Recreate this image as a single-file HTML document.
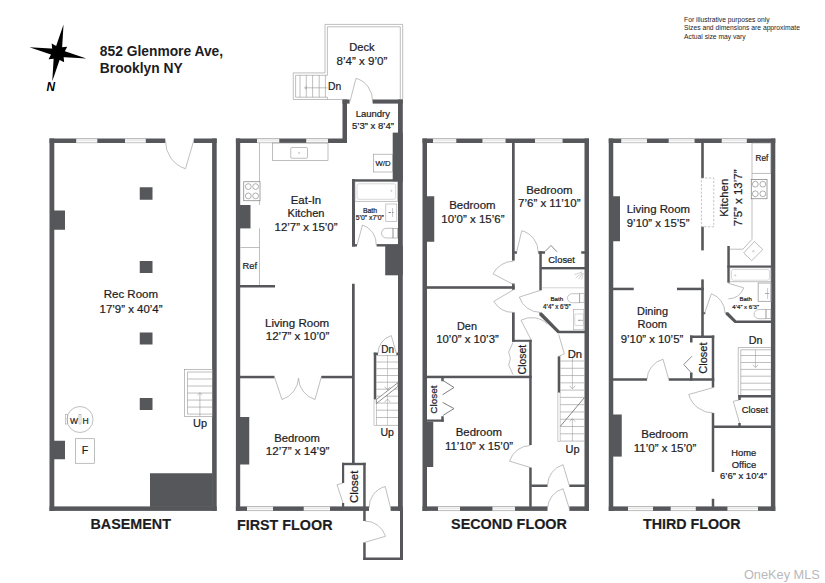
<!DOCTYPE html>
<html><head><meta charset="utf-8"><title>Floor plan</title>
<style>
html,body{margin:0;padding:0;background:#fff;}
body{width:825px;height:583px;overflow:hidden;}
svg{display:block;font-family:"Liberation Sans",sans-serif;}
</style></head><body>
<svg width="825" height="583" viewBox="0 0 825 583">
<rect width="825" height="583" fill="#ffffff"/>
<rect x="49.50" y="138.50" width="4.80" height="372.40" fill="#56575a"/>
<rect x="212.10" y="138.50" width="4.60" height="372.40" fill="#56575a"/>
<rect x="49.50" y="138.50" width="115.75" height="4.50" fill="#56575a"/>
<rect x="193.75" y="138.50" width="22.95" height="4.50" fill="#56575a"/>
<rect x="76.25" y="138.50" width="21.00" height="4.50" fill="#ffffff"/>
<line x1="76.25" y1="138.80" x2="97.25" y2="138.80" stroke="#9a9a9c" stroke-width="0.6" />
<line x1="76.25" y1="142.70" x2="97.25" y2="142.70" stroke="#9a9a9c" stroke-width="0.6" />
<line x1="76.25" y1="140.75" x2="97.25" y2="140.75" stroke="#c8c8ca" stroke-width="0.5" />
<rect x="125.00" y="138.50" width="20.75" height="4.50" fill="#ffffff"/>
<line x1="125.00" y1="138.80" x2="145.75" y2="138.80" stroke="#9a9a9c" stroke-width="0.6" />
<line x1="125.00" y1="142.70" x2="145.75" y2="142.70" stroke="#9a9a9c" stroke-width="0.6" />
<line x1="125.00" y1="140.75" x2="145.75" y2="140.75" stroke="#c8c8ca" stroke-width="0.5" />
<rect x="49.50" y="506.40" width="167.20" height="4.50" fill="#56575a"/>
<rect x="139.75" y="187.25" width="12.75" height="12.50" fill="#56575a"/>
<rect x="139.75" y="261.00" width="12.75" height="12.00" fill="#56575a"/>
<rect x="139.75" y="332.50" width="12.75" height="12.00" fill="#56575a"/>
<rect x="139.75" y="398.00" width="12.75" height="12.00" fill="#56575a"/>
<rect x="53.80" y="210.50" width="11.20" height="19.25" fill="#56575a"/>
<rect x="53.80" y="440.75" width="11.20" height="18.50" fill="#56575a"/>
<rect x="150.00" y="473.25" width="62.60" height="33.65" fill="#56575a"/>
<path d="M193.75,140.50 L185.50,168.75 A28.84,28.84 0 0 1 165.50,140.50" fill="none" stroke="#939395" stroke-width="0.6"/>
<rect x="184.60" y="369.30" width="27.70" height="47.00" rx="0" fill="none" stroke="#939395" stroke-width="0.6" />
<line x1="187.50" y1="372.00" x2="187.50" y2="414.10" stroke="#939395" stroke-width="0.6" />
<line x1="187.50" y1="372.00" x2="212.30" y2="372.00" stroke="#939395" stroke-width="0.6" />
<line x1="187.50" y1="414.10" x2="212.30" y2="414.10" stroke="#939395" stroke-width="0.6" />
<line x1="187.50" y1="379.02" x2="212.30" y2="379.02" stroke="#939395" stroke-width="0.6" />
<line x1="187.50" y1="386.03" x2="212.30" y2="386.03" stroke="#939395" stroke-width="0.6" />
<line x1="187.50" y1="393.05" x2="212.30" y2="393.05" stroke="#939395" stroke-width="0.6" />
<line x1="187.50" y1="400.07" x2="212.30" y2="400.07" stroke="#939395" stroke-width="0.6" />
<line x1="187.50" y1="407.08" x2="212.30" y2="407.08" stroke="#939395" stroke-width="0.6" />
<line x1="199.90" y1="393.20" x2="199.90" y2="416.30" stroke="#939395" stroke-width="0.6" />
<path d="M197.5,395 L199.9,392.7 L202.3,395" fill="none" stroke="#939395" stroke-width="0.6"/>
<text x="200.00" y="426.65" font-size="10.95" text-anchor="middle" font-weight="normal" font-style="normal" fill="#1d1d1f" stroke="#1d1d1f" stroke-width="0.22">Up</text>
<circle cx="80.00" cy="419.50" r="13.00" fill="none" stroke="#939395" stroke-width="0.6"/>
<rect x="65.50" y="414.50" width="2.00" height="9.50" rx="0" fill="none" stroke="#939395" stroke-width="0.5" />
<rect x="79.00" y="414.50" width="2.00" height="9.50" rx="0" fill="none" stroke="#939395" stroke-width="0.5" />
<text x="74.00" y="423.65" font-size="8.48" text-anchor="middle" font-weight="normal" font-style="normal" fill="#1d1d1f" stroke="#1d1d1f" stroke-width="0.22">W</text>
<text x="85.67" y="423.65" font-size="8.52" text-anchor="middle" font-weight="normal" font-style="normal" fill="#1d1d1f" stroke="#1d1d1f" stroke-width="0.22">H</text>
<rect x="75.50" y="438.75" width="19.00" height="24.50" rx="0" fill="none" stroke="#939395" stroke-width="0.6" />
<text x="85.05" y="454.40" font-size="10.64" text-anchor="middle" font-weight="normal" font-style="normal" fill="#1d1d1f" stroke="#1d1d1f" stroke-width="0.22">F</text>
<text x="130.88" y="298.40" font-size="11.49" text-anchor="middle" font-weight="normal" font-style="normal" fill="#1d1d1f" stroke="#1d1d1f" stroke-width="0.22">Rec Room</text>
<text x="131.00" y="312.65" font-size="11.45" text-anchor="middle" font-weight="normal" font-style="normal" fill="#1d1d1f" stroke="#1d1d1f" stroke-width="0.22">17’9” x 40’4”</text>
<text x="130.75" y="529.40" font-size="14.35" text-anchor="middle" font-weight="bold" font-style="normal" fill="#1d1d1f" stroke="#1d1d1f" stroke-width="0.15">BASEMENT</text>
<rect x="235.90" y="138.50" width="4.30" height="372.40" fill="#56575a"/>
<rect x="235.90" y="138.50" width="111.10" height="4.50" fill="#56575a"/>
<rect x="257.00" y="138.50" width="22.25" height="4.50" fill="#ffffff"/>
<line x1="257.00" y1="138.80" x2="279.25" y2="138.80" stroke="#9a9a9c" stroke-width="0.6" />
<line x1="257.00" y1="142.70" x2="279.25" y2="142.70" stroke="#9a9a9c" stroke-width="0.6" />
<line x1="257.00" y1="140.75" x2="279.25" y2="140.75" stroke="#c8c8ca" stroke-width="0.5" />
<rect x="306.25" y="138.50" width="21.75" height="4.50" fill="#ffffff"/>
<line x1="306.25" y1="138.80" x2="328.00" y2="138.80" stroke="#9a9a9c" stroke-width="0.6" />
<line x1="306.25" y1="142.70" x2="328.00" y2="142.70" stroke="#9a9a9c" stroke-width="0.6" />
<line x1="306.25" y1="140.75" x2="328.00" y2="140.75" stroke="#c8c8ca" stroke-width="0.5" />
<rect x="342.50" y="99.50" width="4.50" height="43.50" fill="#56575a"/>
<rect x="342.50" y="99.50" width="7.10" height="4.10" fill="#56575a"/>
<rect x="372.60" y="99.50" width="30.20" height="4.10" fill="#56575a"/>
<rect x="398.00" y="99.50" width="4.80" height="411.40" fill="#56575a"/>
<rect x="392.70" y="132.60" width="10.10" height="49.15" fill="#56575a"/>
<rect x="385.20" y="246.00" width="17.60" height="29.30" fill="#56575a"/>
<rect x="352.00" y="179.25" width="46.50" height="2.50" fill="#56575a"/>
<rect x="352.00" y="179.25" width="3.00" height="67.25" fill="#56575a"/>
<rect x="352.00" y="244.10" width="5.00" height="2.40" fill="#56575a"/>
<rect x="376.60" y="244.10" width="21.90" height="2.40" fill="#56575a"/>
<path d="M357.00,245.00 L362.50,225.00 A20.00,20.00 0 0 1 376.25,245.00" fill="none" stroke="#939395" stroke-width="0.6"/>
<rect x="352.00" y="283.75" width="2.70" height="179.25" fill="#56575a"/>
<rect x="239.70" y="285.00" width="35.30" height="2.50" fill="#56575a"/>
<rect x="239.70" y="375.80" width="34.80" height="2.50" fill="#56575a"/>
<rect x="321.25" y="375.80" width="31.25" height="2.50" fill="#56575a"/>
<rect x="239.70" y="417.00" width="9.55" height="47.50" fill="#56575a"/>
<rect x="239.70" y="205.00" width="10.80" height="23.40" fill="#56575a"/>
<rect x="342.00" y="462.80" width="23.70" height="2.40" fill="#56575a"/>
<rect x="342.00" y="462.80" width="2.20" height="20.20" fill="#56575a"/>
<rect x="342.00" y="503.00" width="2.20" height="3.90" fill="#56575a"/>
<rect x="363.20" y="462.80" width="2.50" height="58.20" fill="#56575a"/>
<rect x="363.20" y="542.50" width="2.50" height="17.50" fill="#56575a"/>
<rect x="235.90" y="506.40" width="133.10" height="4.50" fill="#56575a"/>
<rect x="390.60" y="506.40" width="12.20" height="4.50" fill="#56575a"/>
<rect x="247.00" y="506.40" width="26.00" height="4.50" fill="#ffffff"/>
<line x1="247.00" y1="506.70" x2="273.00" y2="506.70" stroke="#9a9a9c" stroke-width="0.6" />
<line x1="247.00" y1="510.60" x2="273.00" y2="510.60" stroke="#9a9a9c" stroke-width="0.6" />
<line x1="247.00" y1="508.65" x2="273.00" y2="508.65" stroke="#c8c8ca" stroke-width="0.5" />
<rect x="303.75" y="506.40" width="26.25" height="4.50" fill="#ffffff"/>
<line x1="303.75" y1="506.70" x2="330.00" y2="506.70" stroke="#9a9a9c" stroke-width="0.6" />
<line x1="303.75" y1="510.60" x2="330.00" y2="510.60" stroke="#9a9a9c" stroke-width="0.6" />
<line x1="303.75" y1="508.65" x2="330.00" y2="508.65" stroke="#c8c8ca" stroke-width="0.5" />
<rect x="400.00" y="510.40" width="3.00" height="49.60" fill="#56575a"/>
<rect x="363.20" y="557.50" width="39.80" height="2.50" fill="#56575a"/>
<path d="M274.50,377.20 L282.00,399.50 A23.77,23.77 0 0 0 298.50,378.20" fill="none" stroke="#939395" stroke-width="0.6"/>
<path d="M321.25,377.20 L315.00,399.50 A22.97,22.97 0 0 1 298.50,378.20" fill="none" stroke="#939395" stroke-width="0.6"/>
<path d="M390.60,508.00 L385.20,486.50 A21.88,21.88 0 0 0 369.00,508.00" fill="none" stroke="#939395" stroke-width="0.6"/>
<path d="M364.50,542.50 L385.50,536.25 A21.71,21.71 0 0 0 364.80,521.00" fill="none" stroke="#939395" stroke-width="0.6"/>
<path d="M343,503 L337,484.7 L343,483" fill="none" stroke="#939395" stroke-width="0.6"/>
<path d="M350.00,101.50 L356.00,78.30 A23.28,23.28 0 0 1 372.60,101.50" fill="none" stroke="#939395" stroke-width="0.6"/>
<path d="M342.5,99.5 L293.25,99.5 L293.25,72.9 L325,72.9 L325,24.4 L402.7,24.4 L402.7,99.5" fill="none" stroke="#939395" stroke-width="0.6"/>
<path d="M327.4,97.2 L295.6,97.2 L295.6,75.3 L327.4,75.3 L327.4,26.8 L400.3,26.8 L400.3,99.5" fill="none" stroke="#939395" stroke-width="0.6"/>
<line x1="300.00" y1="75.30" x2="300.00" y2="97.20" stroke="#939395" stroke-width="0.6" />
<line x1="306.30" y1="75.30" x2="306.30" y2="97.20" stroke="#939395" stroke-width="0.6" />
<line x1="312.60" y1="75.30" x2="312.60" y2="97.20" stroke="#939395" stroke-width="0.6" />
<line x1="319.20" y1="75.30" x2="319.20" y2="97.20" stroke="#939395" stroke-width="0.6" />
<line x1="325.40" y1="75.30" x2="325.40" y2="97.20" stroke="#939395" stroke-width="0.6" />
<line x1="304.80" y1="87.80" x2="327.40" y2="87.80" stroke="#939395" stroke-width="0.6" />
<path d="M307,86 L304.6,87.8 L307,89.6" fill="none" stroke="#939395" stroke-width="0.6"/>
<line x1="327.40" y1="97.20" x2="327.40" y2="99.50" stroke="#939395" stroke-width="0.6" />
<text x="334.60" y="89.70" font-size="10.33" text-anchor="middle" font-weight="normal" font-style="normal" fill="#1d1d1f" stroke="#1d1d1f" stroke-width="0.22">Dn</text>
<text x="361.95" y="50.70" font-size="11.10" text-anchor="middle" font-weight="normal" font-style="normal" fill="#1d1d1f" stroke="#1d1d1f" stroke-width="0.22">Deck</text>
<text x="362.00" y="64.80" font-size="11.57" text-anchor="middle" font-weight="normal" font-style="normal" fill="#1d1d1f" stroke="#1d1d1f" stroke-width="0.22">8’4” x 9’0”</text>
<text x="372.85" y="117.40" font-size="9.49" text-anchor="middle" font-weight="normal" font-style="normal" fill="#1d1d1f" stroke="#1d1d1f" stroke-width="0.22">Laundry</text>
<text x="373.00" y="129.10" font-size="9.57" text-anchor="middle" font-weight="normal" font-style="normal" fill="#1d1d1f" stroke="#1d1d1f" stroke-width="0.22">5’3” x 8’4”</text>
<rect x="373.40" y="154.20" width="19.30" height="17.80" rx="0" fill="none" stroke="#939395" stroke-width="0.6" />
<text x="383.00" y="165.90" font-size="7.72" text-anchor="middle" font-weight="normal" font-style="normal" fill="#1d1d1f" stroke="#1d1d1f" stroke-width="0.22">W/D</text>
<rect x="272.50" y="143.00" width="55.50" height="17.50" rx="0" fill="none" stroke="#939395" stroke-width="0.6" />
<rect x="290.75" y="147.50" width="16.75" height="10.75" rx="1" fill="none" stroke="#939395" stroke-width="0.6" />
<circle cx="299.10" cy="152.90" r="0.70" fill="none" stroke="#939395" stroke-width="0.4"/>
<path d="M259.5,143 L259.5,205" fill="none" stroke="#939395" stroke-width="0.6"/>
<rect x="243.75" y="181.75" width="16.25" height="19.00" rx="0" fill="#fff" stroke="#7a7a7c" stroke-width="0.7" />
<circle cx="248.30" cy="186.60" r="2.90" fill="none" stroke="#7a7a7c" stroke-width="0.6"/>
<circle cx="255.60" cy="186.60" r="2.90" fill="none" stroke="#7a7a7c" stroke-width="0.6"/>
<circle cx="248.30" cy="195.90" r="2.90" fill="none" stroke="#7a7a7c" stroke-width="0.6"/>
<circle cx="255.60" cy="195.90" r="2.90" fill="none" stroke="#7a7a7c" stroke-width="0.6"/>
<path d="M259.5,228.4 L259.5,285" fill="none" stroke="#939395" stroke-width="0.6"/>
<line x1="240.40" y1="247.50" x2="259.50" y2="247.50" stroke="#939395" stroke-width="0.6" />
<text x="249.75" y="269.15" font-size="9.32" text-anchor="middle" font-weight="normal" font-style="normal" fill="#1d1d1f" stroke="#1d1d1f" stroke-width="0.22">Ref</text>
<text x="306.00" y="203.65" font-size="11.43" text-anchor="middle" font-weight="normal" font-style="normal" fill="#1d1d1f" stroke="#1d1d1f" stroke-width="0.22">Eat-In</text>
<text x="306.00" y="217.40" font-size="11.09" text-anchor="middle" font-weight="normal" font-style="normal" fill="#1d1d1f" stroke="#1d1d1f" stroke-width="0.22">Kitchen</text>
<text x="306.00" y="231.15" font-size="11.45" text-anchor="middle" font-weight="normal" font-style="normal" fill="#1d1d1f" stroke="#1d1d1f" stroke-width="0.22">12’7” x 15’0”</text>
<rect x="355.00" y="181.75" width="42.70" height="19.50" rx="0" fill="none" stroke="#9a9a9c" stroke-width="0.6" />
<rect x="357.00" y="183.80" width="38.70" height="15.50" rx="2" fill="none" stroke="#b0b0b2" stroke-width="0.5" />
<circle cx="391.50" cy="190.80" r="0.60" fill="none" stroke="#939395" stroke-width="0.4"/>
<rect x="385.80" y="204.00" width="11.00" height="17.60" rx="0" fill="none" stroke="#a5a5a7" stroke-width="0.6" />
<line x1="388.50" y1="212.50" x2="391.00" y2="212.50" stroke="#555" stroke-width="0.7" />
<line x1="392.20" y1="212.50" x2="393.60" y2="212.50" stroke="#555" stroke-width="0.7" />
<line x1="392.50" y1="208.00" x2="392.50" y2="217.00" stroke="#939395" stroke-width="0.5" />
<path d="M393,228.3 L386.5,228.3 A5,4.85 0 0 0 386.5,238 L393,238 Z" fill="none" stroke="#939395" stroke-width="0.6"/>
<rect x="393.00" y="228.30" width="4.70" height="9.70" rx="0" fill="none" stroke="#939395" stroke-width="0.6" />
<text x="370.00" y="212.90" font-size="6.81" text-anchor="middle" font-weight="normal" font-style="normal" fill="#1d1d1f" stroke="#1d1d1f" stroke-width="0.22">Bath</text>
<text x="369.75" y="220.40" font-size="6.81" text-anchor="middle" font-weight="normal" font-style="normal" fill="#1d1d1f" stroke="#1d1d1f" stroke-width="0.22">5’0” x7’0”</text>
<text x="297.12" y="326.65" font-size="11.56" text-anchor="middle" font-weight="normal" font-style="normal" fill="#1d1d1f" stroke="#1d1d1f" stroke-width="0.22">Living Room</text>
<text x="297.50" y="340.40" font-size="11.54" text-anchor="middle" font-weight="normal" font-style="normal" fill="#1d1d1f" stroke="#1d1d1f" stroke-width="0.22">12’7” x 10’0”</text>
<text x="297.12" y="441.65" font-size="11.28" text-anchor="middle" font-weight="normal" font-style="normal" fill="#1d1d1f" stroke="#1d1d1f" stroke-width="0.22">Bedroom</text>
<text x="297.62" y="455.40" font-size="11.59" text-anchor="middle" font-weight="normal" font-style="normal" fill="#1d1d1f" stroke="#1d1d1f" stroke-width="0.22">12’7” x 14’9”</text>
<text transform="translate(358.20,486.85) rotate(-90)" font-size="11.40" text-anchor="middle" fill="#1d1d1f" stroke="#1d1d1f" stroke-width="0.22">Closet</text>
<text x="284.75" y="529.65" font-size="14.33" text-anchor="middle" font-weight="bold" font-style="normal" fill="#1d1d1f" stroke="#1d1d1f" stroke-width="0.15">FIRST FLOOR</text>
<rect x="373.75" y="352.60" width="2.55" height="46.60" fill="#56575a"/>
<rect x="373.75" y="352.60" width="4.25" height="2.40" fill="#56575a"/>
<rect x="396.40" y="352.60" width="2.10" height="2.40" fill="#56575a"/>
<rect x="374.00" y="399.20" width="2.30" height="26.20" rx="0" fill="none" stroke="#939395" stroke-width="0.5" />
<path d="M396.40,353.60 L391.30,335.60 A18.55,18.55 0 0 0 378.00,353.60" fill="none" stroke="#939395" stroke-width="0.6"/>
<line x1="376.30" y1="355.60" x2="398.00" y2="355.60" stroke="#939395" stroke-width="0.6" />
<line x1="376.30" y1="362.00" x2="398.00" y2="362.00" stroke="#939395" stroke-width="0.6" />
<line x1="376.30" y1="368.70" x2="398.00" y2="368.70" stroke="#939395" stroke-width="0.6" />
<line x1="376.30" y1="375.50" x2="398.00" y2="375.50" stroke="#939395" stroke-width="0.6" />
<line x1="376.30" y1="382.20" x2="398.00" y2="382.20" stroke="#939395" stroke-width="0.6" />
<line x1="376.30" y1="389.20" x2="398.00" y2="389.20" stroke="#939395" stroke-width="0.6" />
<line x1="376.30" y1="396.20" x2="398.00" y2="396.20" stroke="#939395" stroke-width="0.6" />
<line x1="376.30" y1="403.10" x2="398.00" y2="403.10" stroke="#939395" stroke-width="0.6" />
<line x1="376.30" y1="410.20" x2="398.00" y2="410.20" stroke="#939395" stroke-width="0.6" />
<line x1="376.30" y1="417.50" x2="398.00" y2="417.50" stroke="#939395" stroke-width="0.6" />
<line x1="376.30" y1="425.40" x2="398.00" y2="425.40" stroke="#939395" stroke-width="0.6" />
<line x1="387.50" y1="355.00" x2="387.50" y2="425.40" stroke="#a0a0a2" stroke-width="0.5" />
<polygon points="376.3,399.6 398,382.6 398,386.4 376.3,403.6" fill="#fff" stroke="#737375" stroke-width="0.8"/>
<path d="M384.7,386.8 L387.5,389.8 L390.3,386.8" fill="none" stroke="#939395" stroke-width="0.6"/>
<path d="M384.7,402 L387.5,399.1 L390.3,402" fill="none" stroke="#939395" stroke-width="0.6"/>
<text x="387.60" y="352.70" font-size="10.01" text-anchor="middle" font-weight="normal" font-style="normal" fill="#1d1d1f" stroke="#1d1d1f" stroke-width="0.22">Dn</text>
<text x="387.25" y="436.20" font-size="10.56" text-anchor="middle" font-weight="normal" font-style="normal" fill="#1d1d1f" stroke="#1d1d1f" stroke-width="0.22">Up</text>
<rect x="422.50" y="138.50" width="4.50" height="372.40" fill="#56575a"/>
<rect x="584.50" y="138.50" width="4.50" height="372.40" fill="#56575a"/>
<rect x="422.50" y="138.50" width="166.50" height="4.50" fill="#56575a"/>
<rect x="433.00" y="138.50" width="23.25" height="4.50" fill="#ffffff"/>
<line x1="433.00" y1="138.80" x2="456.25" y2="138.80" stroke="#9a9a9c" stroke-width="0.6" />
<line x1="433.00" y1="142.70" x2="456.25" y2="142.70" stroke="#9a9a9c" stroke-width="0.6" />
<line x1="433.00" y1="140.75" x2="456.25" y2="140.75" stroke="#c8c8ca" stroke-width="0.5" />
<rect x="482.50" y="138.50" width="23.00" height="4.50" fill="#ffffff"/>
<line x1="482.50" y1="138.80" x2="505.50" y2="138.80" stroke="#9a9a9c" stroke-width="0.6" />
<line x1="482.50" y1="142.70" x2="505.50" y2="142.70" stroke="#9a9a9c" stroke-width="0.6" />
<line x1="482.50" y1="140.75" x2="505.50" y2="140.75" stroke="#c8c8ca" stroke-width="0.5" />
<rect x="535.00" y="138.50" width="27.50" height="4.50" fill="#ffffff"/>
<line x1="535.00" y1="138.80" x2="562.50" y2="138.80" stroke="#9a9a9c" stroke-width="0.6" />
<line x1="535.00" y1="142.70" x2="562.50" y2="142.70" stroke="#9a9a9c" stroke-width="0.6" />
<line x1="535.00" y1="140.75" x2="562.50" y2="140.75" stroke="#c8c8ca" stroke-width="0.5" />
<rect x="422.50" y="506.40" width="125.00" height="4.50" fill="#56575a"/>
<rect x="569.30" y="506.40" width="19.70" height="4.50" fill="#56575a"/>
<rect x="438.00" y="506.40" width="22.00" height="4.50" fill="#ffffff"/>
<line x1="438.00" y1="506.70" x2="460.00" y2="506.70" stroke="#9a9a9c" stroke-width="0.6" />
<line x1="438.00" y1="510.60" x2="460.00" y2="510.60" stroke="#9a9a9c" stroke-width="0.6" />
<line x1="438.00" y1="508.65" x2="460.00" y2="508.65" stroke="#c8c8ca" stroke-width="0.5" />
<rect x="492.50" y="506.40" width="22.50" height="4.50" fill="#ffffff"/>
<line x1="492.50" y1="506.70" x2="515.00" y2="506.70" stroke="#9a9a9c" stroke-width="0.6" />
<line x1="492.50" y1="510.60" x2="515.00" y2="510.60" stroke="#9a9a9c" stroke-width="0.6" />
<line x1="492.50" y1="508.65" x2="515.00" y2="508.65" stroke="#c8c8ca" stroke-width="0.5" />
<rect x="426.50" y="196.25" width="7.75" height="45.50" fill="#56575a"/>
<rect x="512.00" y="142.50" width="2.70" height="118.10" fill="#56575a"/>
<rect x="512.00" y="283.50" width="2.70" height="6.30" fill="#56575a"/>
<rect x="512.00" y="312.40" width="2.70" height="29.40" fill="#56575a"/>
<rect x="426.50" y="286.20" width="88.20" height="2.60" fill="#56575a"/>
<rect x="514.20" y="251.25" width="2.80" height="2.50" fill="#56575a"/>
<rect x="538.25" y="251.25" width="6.75" height="2.50" fill="#56575a"/>
<rect x="581.25" y="251.25" width="3.75" height="2.50" fill="#56575a"/>
<rect x="539.30" y="251.25" width="2.50" height="39.05" fill="#56575a"/>
<rect x="541.00" y="267.00" width="44.00" height="2.40" fill="#56575a"/>
<polygon points="539.30,312.40 541.80,312.40 559.60,330.80 585.00,330.80 585.00,333.30 557.60,333.30 539.30,315.20" fill="#56575a"/>
<rect x="512.00" y="339.80" width="19.70" height="2.00" fill="#56575a"/>
<rect x="529.20" y="339.80" width="2.50" height="105.20" fill="#56575a"/>
<rect x="529.20" y="467.50" width="2.50" height="39.40" fill="#56575a"/>
<rect x="426.50" y="375.70" width="105.20" height="2.50" fill="#56575a"/>
<rect x="426.50" y="419.50" width="17.25" height="2.25" fill="#56575a"/>
<rect x="441.25" y="378.00" width="2.50" height="3.25" fill="#56575a"/>
<rect x="441.25" y="416.25" width="2.50" height="5.50" fill="#56575a"/>
<rect x="426.50" y="421.75" width="6.75" height="45.25" fill="#56575a"/>
<rect x="531.20" y="484.50" width="16.30" height="2.50" fill="#56575a"/>
<rect x="569.30" y="484.50" width="15.70" height="2.50" fill="#56575a"/>
<rect x="557.70" y="356.30" width="2.60" height="36.20" fill="#56575a"/>
<rect x="557.90" y="392.50" width="2.20" height="48.75" rx="0" fill="none" stroke="#939395" stroke-width="0.5" />
<path d="M516.50,252.50 L521.75,230.75 A22.06,22.06 0 0 1 538.25,252.50" fill="none" stroke="#939395" stroke-width="0.6"/>
<path d="M545,251.5 L551,245.5 L557,251.8" fill="none" stroke="#7e7e80" stroke-width="0.9"/>
<path d="M513.30,284.50 L493.00,273.80 A23.12,23.12 0 0 1 513.30,261.20" fill="none" stroke="#939395" stroke-width="0.6"/>
<path d="M513.30,289.80 L493.80,301.40 A22.64,22.64 0 0 0 513.30,312.40" fill="none" stroke="#939395" stroke-width="0.6"/>
<path d="M540.50,290.30 L519.30,297.10 A22.18,22.18 0 0 0 540.50,312.40" fill="none" stroke="#939395" stroke-width="0.6"/>
<path d="M531.20,340.10 L521.00,320.20 A22.57,22.57 0 0 1 547.30,324.00" fill="none" stroke="#939395" stroke-width="0.6"/>
<path d="M558.70,334.50 L564.30,353.70 A20.90,20.90 0 0 1 558.70,356.30" fill="none" stroke="#939395" stroke-width="0.6"/>
<path d="M513,342.5 L508.7,352 L510.4,358.6 L508.7,365 L513,374.5" fill="none" stroke="#939395" stroke-width="0.6"/>
<path d="M442.3,380 L454,387.5 L442.6,394.7" fill="none" stroke="#7e7e80" stroke-width="1.0"/>
<path d="M442.6,402.4 L454,408.6 L443.1,415.3" fill="none" stroke="#7e7e80" stroke-width="1.0"/>
<path d="M530.40,467.50 L509.60,461.20 A21.87,21.87 0 0 1 530.40,445.50" fill="none" stroke="#939395" stroke-width="0.6"/>
<path d="M569.30,485.70 L563.10,464.70 A21.85,21.85 0 0 0 547.50,485.70" fill="none" stroke="#939395" stroke-width="0.6"/>
<path d="M569.30,508.50 L563.10,488.70 A21.27,21.27 0 0 0 547.50,508.50" fill="none" stroke="#939395" stroke-width="0.6"/>
<line x1="541.80" y1="287.80" x2="584.50" y2="287.80" stroke="#b5b5b7" stroke-width="0.6" />
<line x1="582.20" y1="271.80" x2="574.40" y2="274.80" stroke="#a5a5a7" stroke-width="0.5" />
<line x1="582.00" y1="272.80" x2="575.70" y2="278.00" stroke="#a5a5a7" stroke-width="0.5" />
<line x1="582.60" y1="273.20" x2="578.60" y2="279.20" stroke="#a5a5a7" stroke-width="0.5" />
<line x1="583.30" y1="273.20" x2="581.60" y2="279.40" stroke="#a5a5a7" stroke-width="0.5" />
<path d="M579.6,293.7 L572.5,293.7 A5,4.5 0 0 0 572.5,302.7 L579.6,302.7 Z" fill="none" stroke="#9a9a9c" stroke-width="0.6"/>
<rect x="579.60" y="293.70" width="4.60" height="9.00" rx="0" fill="none" stroke="#9a9a9c" stroke-width="0.6" />
<rect x="573.30" y="309.40" width="10.60" height="20.40" rx="0" fill="none" stroke="#a5a5a7" stroke-width="0.6" />
<rect x="574.90" y="314.00" width="8.30" height="11.70" rx="0" fill="none" stroke="#b5b5b7" stroke-width="0.5" />
<line x1="578.20" y1="320.30" x2="580.60" y2="320.30" stroke="#555" stroke-width="0.7" />
<line x1="581.40" y1="320.30" x2="582.80" y2="320.30" stroke="#555" stroke-width="0.7" />
<line x1="560.30" y1="361.00" x2="584.50" y2="361.00" stroke="#939395" stroke-width="0.6" />
<line x1="560.30" y1="368.28" x2="584.50" y2="368.28" stroke="#939395" stroke-width="0.6" />
<line x1="560.30" y1="375.56" x2="584.50" y2="375.56" stroke="#939395" stroke-width="0.6" />
<line x1="560.30" y1="382.84" x2="584.50" y2="382.84" stroke="#939395" stroke-width="0.6" />
<line x1="560.30" y1="390.12" x2="584.50" y2="390.12" stroke="#939395" stroke-width="0.6" />
<line x1="560.30" y1="397.40" x2="584.50" y2="397.40" stroke="#939395" stroke-width="0.6" />
<line x1="560.30" y1="404.68" x2="584.50" y2="404.68" stroke="#939395" stroke-width="0.6" />
<line x1="560.30" y1="411.96" x2="584.50" y2="411.96" stroke="#939395" stroke-width="0.6" />
<line x1="560.30" y1="419.24" x2="584.50" y2="419.24" stroke="#939395" stroke-width="0.6" />
<line x1="560.30" y1="426.52" x2="584.50" y2="426.52" stroke="#939395" stroke-width="0.6" />
<line x1="560.30" y1="433.80" x2="584.50" y2="433.80" stroke="#939395" stroke-width="0.6" />
<line x1="560.30" y1="441.08" x2="584.50" y2="441.08" stroke="#939395" stroke-width="0.6" />
<line x1="572.40" y1="356.50" x2="572.40" y2="388.50" stroke="#939395" stroke-width="0.5" />
<path d="M569.6,385.8 L572.4,388.8 L575.2,385.8" fill="none" stroke="#939395" stroke-width="0.6"/>
<line x1="572.40" y1="419.00" x2="572.40" y2="441.25" stroke="#939395" stroke-width="0.5" />
<path d="M569.6,421.6 L572.4,418.6 L575.2,421.6" fill="none" stroke="#939395" stroke-width="0.6"/>
<line x1="560.30" y1="426.30" x2="584.50" y2="397.50" stroke="#6a6a6c" stroke-width="0.8" />
<text x="472.38" y="209.15" font-size="11.40" text-anchor="middle" font-weight="normal" font-style="normal" fill="#1d1d1f" stroke="#1d1d1f" stroke-width="0.22">Bedroom</text>
<text x="472.88" y="222.90" font-size="11.49" text-anchor="middle" font-weight="normal" font-style="normal" fill="#1d1d1f" stroke="#1d1d1f" stroke-width="0.22">10’0” x 15’6”</text>
<text x="549.38" y="193.65" font-size="11.40" text-anchor="middle" font-weight="normal" font-style="normal" fill="#1d1d1f" stroke="#1d1d1f" stroke-width="0.22">Bedroom</text>
<text x="549.25" y="207.40" font-size="11.51" text-anchor="middle" font-weight="normal" font-style="normal" fill="#1d1d1f" stroke="#1d1d1f" stroke-width="0.22">7’6” x 11’10”</text>
<text x="561.62" y="262.90" font-size="9.44" text-anchor="middle" font-weight="normal" font-style="normal" fill="#1d1d1f" stroke="#1d1d1f" stroke-width="0.22">Closet</text>
<text x="556.75" y="301.40" font-size="6.17" text-anchor="middle" font-weight="normal" font-style="normal" fill="#1d1d1f" stroke="#1d1d1f" stroke-width="0.22">Bath</text>
<text x="556.80" y="308.90" font-size="6.29" text-anchor="middle" font-weight="normal" font-style="normal" fill="#1d1d1f" stroke="#1d1d1f" stroke-width="0.22">4’4” x 6’5”</text>
<text x="467.00" y="329.90" font-size="10.90" text-anchor="middle" font-weight="normal" font-style="normal" fill="#1d1d1f" stroke="#1d1d1f" stroke-width="0.22">Den</text>
<text x="467.50" y="343.40" font-size="11.36" text-anchor="middle" font-weight="normal" font-style="normal" fill="#1d1d1f" stroke="#1d1d1f" stroke-width="0.22">10’0” x 10’3”</text>
<text transform="translate(525.80,359.55) rotate(-90)" font-size="10.48" text-anchor="middle" fill="#1d1d1f" stroke="#1d1d1f" stroke-width="0.22">Closet</text>
<text transform="translate(437.20,399.62) rotate(-90)" font-size="9.97" text-anchor="middle" fill="#1d1d1f" stroke="#1d1d1f" stroke-width="0.22">Closet</text>
<text x="574.90" y="358.40" font-size="11.27" text-anchor="middle" font-weight="normal" font-style="normal" fill="#1d1d1f" stroke="#1d1d1f" stroke-width="0.22">Dn</text>
<text x="572.50" y="452.90" font-size="10.95" text-anchor="middle" font-weight="normal" font-style="normal" fill="#1d1d1f" stroke="#1d1d1f" stroke-width="0.22">Up</text>
<text x="478.88" y="435.90" font-size="11.40" text-anchor="middle" font-weight="normal" font-style="normal" fill="#1d1d1f" stroke="#1d1d1f" stroke-width="0.22">Bedroom</text>
<text x="479.00" y="449.90" font-size="11.36" text-anchor="middle" font-weight="normal" font-style="normal" fill="#1d1d1f" stroke="#1d1d1f" stroke-width="0.22">11’10” x 15’0”</text>
<text x="509.00" y="528.90" font-size="14.40" text-anchor="middle" font-weight="bold" font-style="normal" fill="#1d1d1f" stroke="#1d1d1f" stroke-width="0.15">SECOND FLOOR</text>
<rect x="608.75" y="138.50" width="4.50" height="372.40" fill="#56575a"/>
<rect x="770.90" y="138.50" width="4.40" height="372.40" fill="#56575a"/>
<rect x="608.75" y="138.50" width="166.55" height="4.50" fill="#56575a"/>
<rect x="608.75" y="506.40" width="166.55" height="4.50" fill="#56575a"/>
<rect x="621.25" y="138.50" width="25.75" height="4.50" fill="#ffffff"/>
<line x1="621.25" y1="138.80" x2="647.00" y2="138.80" stroke="#9a9a9c" stroke-width="0.6" />
<line x1="621.25" y1="142.70" x2="647.00" y2="142.70" stroke="#9a9a9c" stroke-width="0.6" />
<line x1="621.25" y1="140.75" x2="647.00" y2="140.75" stroke="#c8c8ca" stroke-width="0.5" />
<rect x="668.75" y="138.50" width="25.75" height="4.50" fill="#ffffff"/>
<line x1="668.75" y1="138.80" x2="694.50" y2="138.80" stroke="#9a9a9c" stroke-width="0.6" />
<line x1="668.75" y1="142.70" x2="694.50" y2="142.70" stroke="#9a9a9c" stroke-width="0.6" />
<line x1="668.75" y1="140.75" x2="694.50" y2="140.75" stroke="#c8c8ca" stroke-width="0.5" />
<rect x="721.75" y="138.50" width="25.00" height="4.50" fill="#ffffff"/>
<line x1="721.75" y1="138.80" x2="746.75" y2="138.80" stroke="#9a9a9c" stroke-width="0.6" />
<line x1="721.75" y1="142.70" x2="746.75" y2="142.70" stroke="#9a9a9c" stroke-width="0.6" />
<line x1="721.75" y1="140.75" x2="746.75" y2="140.75" stroke="#c8c8ca" stroke-width="0.5" />
<rect x="628.00" y="506.40" width="25.00" height="4.50" fill="#ffffff"/>
<line x1="628.00" y1="506.70" x2="653.00" y2="506.70" stroke="#9a9a9c" stroke-width="0.6" />
<line x1="628.00" y1="510.60" x2="653.00" y2="510.60" stroke="#9a9a9c" stroke-width="0.6" />
<line x1="628.00" y1="508.65" x2="653.00" y2="508.65" stroke="#c8c8ca" stroke-width="0.5" />
<rect x="670.75" y="506.40" width="25.00" height="4.50" fill="#ffffff"/>
<line x1="670.75" y1="506.70" x2="695.75" y2="506.70" stroke="#9a9a9c" stroke-width="0.6" />
<line x1="670.75" y1="510.60" x2="695.75" y2="510.60" stroke="#9a9a9c" stroke-width="0.6" />
<line x1="670.75" y1="508.65" x2="695.75" y2="508.65" stroke="#c8c8ca" stroke-width="0.5" />
<rect x="727.50" y="506.40" width="30.50" height="4.50" fill="#ffffff"/>
<line x1="727.50" y1="506.70" x2="758.00" y2="506.70" stroke="#9a9a9c" stroke-width="0.6" />
<line x1="727.50" y1="510.60" x2="758.00" y2="510.60" stroke="#9a9a9c" stroke-width="0.6" />
<line x1="727.50" y1="508.65" x2="758.00" y2="508.65" stroke="#c8c8ca" stroke-width="0.5" />
<rect x="612.75" y="196.25" width="7.25" height="45.00" fill="#56575a"/>
<rect x="612.75" y="414.50" width="9.00" height="42.10" fill="#56575a"/>
<rect x="701.20" y="142.50" width="2.60" height="35.50" fill="#56575a"/>
<rect x="701.20" y="226.75" width="2.60" height="23.65" fill="#56575a"/>
<rect x="701.20" y="279.40" width="2.60" height="56.60" fill="#56575a"/>
<rect x="701.40" y="178.00" width="12.35" height="48.75" rx="0" fill="none" stroke="#9a9a9c" stroke-width="0.6" stroke-dasharray="2.2,1.6"/>
<rect x="612.75" y="287.70" width="21.00" height="2.50" fill="#56575a"/>
<rect x="677.00" y="287.70" width="26.80" height="2.50" fill="#56575a"/>
<rect x="727.30" y="246.00" width="2.50" height="36.70" fill="#56575a"/>
<rect x="727.30" y="265.50" width="44.10" height="2.30" fill="#56575a"/>
<polygon points="725.60,312.20 728.20,312.20 736.30,320.50 771.40,320.50 771.40,323.00 734.60,323.00 725.60,314.60" fill="#56575a"/>
<rect x="703.30" y="312.20" width="2.00" height="2.00" fill="#56575a"/>
<rect x="690.00" y="335.50" width="24.25" height="2.50" fill="#56575a"/>
<rect x="711.75" y="335.50" width="2.50" height="52.00" fill="#56575a"/>
<rect x="711.75" y="413.00" width="2.50" height="59.00" fill="#56575a"/>
<rect x="711.75" y="498.75" width="2.50" height="8.15" fill="#56575a"/>
<rect x="690.00" y="335.50" width="2.50" height="7.00" fill="#56575a"/>
<rect x="690.00" y="372.50" width="2.50" height="8.25" fill="#56575a"/>
<rect x="612.75" y="378.25" width="34.25" height="2.50" fill="#56575a"/>
<rect x="668.75" y="378.25" width="45.50" height="2.50" fill="#56575a"/>
<rect x="713.75" y="425.50" width="57.65" height="2.50" fill="#56575a"/>
<rect x="738.25" y="395.00" width="33.15" height="2.50" fill="#56575a"/>
<rect x="738.25" y="395.00" width="2.50" height="5.00" fill="#56575a"/>
<rect x="738.25" y="423.00" width="2.50" height="3.00" fill="#56575a"/>
<path d="M728.40,283.30 L743.70,287.80 A15.72,15.72 0 0 1 728.40,298.80" fill="none" stroke="#939395" stroke-width="0.6"/>
<path d="M704.60,313.20 L711.40,293.70 A20.53,20.53 0 0 1 725.00,313.20" fill="none" stroke="#939395" stroke-width="0.6"/>
<path d="M668.75,379.50 L663.00,359.25 A21.40,21.40 0 0 0 647.00,379.50" fill="none" stroke="#939395" stroke-width="0.6"/>
<path d="M692,356.2 L683.75,364.5 L691,372.5" fill="none" stroke="#7e7e80" stroke-width="0.9"/>
<path d="M713.40,387.50 L688.75,394.50 A25.56,25.56 0 0 0 713.40,413.00" fill="none" stroke="#939395" stroke-width="0.6"/>
<path d="M739.5,423 L733.25,401.25 L739.5,400" fill="none" stroke="#939395" stroke-width="0.6"/>
<rect x="752.00" y="143.00" width="18.90" height="30.25" rx="0" fill="none" stroke="#939395" stroke-width="0.6" />
<text x="761.88" y="161.15" font-size="8.19" text-anchor="middle" font-weight="normal" font-style="normal" fill="#1d1d1f" stroke="#1d1d1f" stroke-width="0.22">Ref</text>
<path d="M752,173.25 L752,239.3 L742.9,249.2 L729.8,249.2" fill="none" stroke="#939395" stroke-width="0.6"/>
<rect x="751.25" y="179.50" width="15.75" height="19.25" rx="0" fill="#fff" stroke="#7a7a7c" stroke-width="0.7" />
<circle cx="755.30" cy="184.20" r="2.90" fill="none" stroke="#7a7a7c" stroke-width="0.6"/>
<circle cx="762.80" cy="184.20" r="2.90" fill="none" stroke="#7a7a7c" stroke-width="0.6"/>
<circle cx="755.30" cy="193.80" r="2.90" fill="none" stroke="#7a7a7c" stroke-width="0.6"/>
<circle cx="762.80" cy="193.80" r="2.90" fill="none" stroke="#7a7a7c" stroke-width="0.6"/>
<polygon points="754.4,241.6 762.9,249.5 751.7,260.6 743.7,252.9" fill="#fff" stroke="#939395" stroke-width="0.6"/>
<circle cx="753.40" cy="251.20" r="0.80" fill="none" stroke="#939395" stroke-width="0.4"/>
<rect x="729.80" y="267.80" width="41.20" height="14.00" rx="0" fill="none" stroke="#9a9a9c" stroke-width="0.6" />
<rect x="731.50" y="269.50" width="38.00" height="10.70" rx="2" fill="none" stroke="#b5b5b7" stroke-width="0.5" />
<circle cx="735.30" cy="275.40" r="0.60" fill="none" stroke="#939395" stroke-width="0.4"/>
<rect x="758.20" y="283.00" width="12.70" height="18.40" rx="0" fill="none" stroke="#b0b0b2" stroke-width="1.0" />
<line x1="765.00" y1="293.50" x2="769.00" y2="293.50" stroke="#777" stroke-width="0.6" />
<line x1="767.60" y1="288.00" x2="767.60" y2="299.00" stroke="#939395" stroke-width="0.5" />
<path d="M766,309.5 L759,309.5 A5,4.6 0 0 0 759,318.7 L766,318.7 Z" fill="none" stroke="#9a9a9c" stroke-width="0.6"/>
<rect x="766.00" y="309.50" width="4.90" height="9.20" rx="0" fill="none" stroke="#9a9a9c" stroke-width="0.6" />
<path d="M771,347.5 L738.25,347.5 L738.25,395" fill="none" stroke="#939395" stroke-width="0.6"/>
<path d="M771,349.8 L740.75,349.8 L740.75,395" fill="none" stroke="#939395" stroke-width="0.6"/>
<line x1="740.75" y1="355.50" x2="770.90" y2="355.50" stroke="#939395" stroke-width="0.6" />
<line x1="740.75" y1="362.50" x2="770.90" y2="362.50" stroke="#939395" stroke-width="0.6" />
<line x1="740.75" y1="369.40" x2="770.90" y2="369.40" stroke="#939395" stroke-width="0.6" />
<line x1="740.75" y1="376.20" x2="770.90" y2="376.20" stroke="#939395" stroke-width="0.6" />
<line x1="740.75" y1="383.20" x2="770.90" y2="383.20" stroke="#939395" stroke-width="0.6" />
<line x1="740.75" y1="389.80" x2="770.90" y2="389.80" stroke="#939395" stroke-width="0.6" />
<line x1="755.50" y1="349.80" x2="755.50" y2="367.20" stroke="#939395" stroke-width="0.5" />
<path d="M752.9,364.8 L755.5,367.6 L758.1,364.8" fill="none" stroke="#939395" stroke-width="0.6"/>
<text x="658.38" y="212.90" font-size="11.38" text-anchor="middle" font-weight="normal" font-style="normal" fill="#1d1d1f" stroke="#1d1d1f" stroke-width="0.22">Living Room</text>
<text x="658.12" y="226.65" font-size="11.40" text-anchor="middle" font-weight="normal" font-style="normal" fill="#1d1d1f" stroke="#1d1d1f" stroke-width="0.22">9’10” x 15’5”</text>
<text transform="translate(728.30,197.75) rotate(-90)" font-size="11.39" text-anchor="middle" fill="#1d1d1f" stroke="#1d1d1f" stroke-width="0.22">Kitchen</text>
<text transform="translate(742.30,197.88) rotate(-90)" font-size="11.47" text-anchor="middle" fill="#1d1d1f" stroke="#1d1d1f" stroke-width="0.22">7’5” x 13’7”</text>
<text x="745.70" y="301.20" font-size="6.03" text-anchor="middle" font-weight="normal" font-style="normal" fill="#1d1d1f" stroke="#1d1d1f" stroke-width="0.22">Bath</text>
<text x="745.65" y="308.60" font-size="6.08" text-anchor="middle" font-weight="normal" font-style="normal" fill="#1d1d1f" stroke="#1d1d1f" stroke-width="0.22">4’4” x 6’3”</text>
<text x="652.50" y="315.40" font-size="10.94" text-anchor="middle" font-weight="normal" font-style="normal" fill="#1d1d1f" stroke="#1d1d1f" stroke-width="0.22">Dining</text>
<text x="652.25" y="328.40" font-size="11.06" text-anchor="middle" font-weight="normal" font-style="normal" fill="#1d1d1f" stroke="#1d1d1f" stroke-width="0.22">Room</text>
<text x="652.00" y="342.90" font-size="11.36" text-anchor="middle" font-weight="normal" font-style="normal" fill="#1d1d1f" stroke="#1d1d1f" stroke-width="0.22">9’10” x 10’5”</text>
<text transform="translate(706.80,358.12) rotate(-90)" font-size="11.03" text-anchor="middle" fill="#1d1d1f" stroke="#1d1d1f" stroke-width="0.22">Closet</text>
<text x="755.62" y="344.15" font-size="10.76" text-anchor="middle" font-weight="normal" font-style="normal" fill="#1d1d1f" stroke="#1d1d1f" stroke-width="0.22">Dn</text>
<text x="754.88" y="413.40" font-size="9.26" text-anchor="middle" font-weight="normal" font-style="normal" fill="#1d1d1f" stroke="#1d1d1f" stroke-width="0.22">Closet</text>
<text x="664.62" y="438.40" font-size="11.52" text-anchor="middle" font-weight="normal" font-style="normal" fill="#1d1d1f" stroke="#1d1d1f" stroke-width="0.22">Bedroom</text>
<text x="665.00" y="452.40" font-size="11.51" text-anchor="middle" font-weight="normal" font-style="normal" fill="#1d1d1f" stroke="#1d1d1f" stroke-width="0.22">11’0” x 15’0”</text>
<text x="743.75" y="456.15" font-size="9.37" text-anchor="middle" font-weight="normal" font-style="normal" fill="#1d1d1f" stroke="#1d1d1f" stroke-width="0.22">Home</text>
<text x="744.00" y="467.90" font-size="9.45" text-anchor="middle" font-weight="normal" font-style="normal" fill="#1d1d1f" stroke="#1d1d1f" stroke-width="0.22">Office</text>
<text x="743.50" y="479.15" font-size="9.50" text-anchor="middle" font-weight="normal" font-style="normal" fill="#1d1d1f" stroke="#1d1d1f" stroke-width="0.22">6’6” x 10’4”</text>
<text x="691.75" y="528.90" font-size="14.27" text-anchor="middle" font-weight="bold" font-style="normal" fill="#1d1d1f" stroke="#1d1d1f" stroke-width="0.15">THIRD FLOOR</text>
<text x="99.8" y="55.8" font-size="13.82" font-weight="bold" fill="#1d1d1f">852 Glenmore Ave,</text>
<text x="99.8" y="72.5" font-size="13.82" font-weight="bold" fill="#1d1d1f">Brooklyn NY</text>
<text x="684.1" y="22.20" font-size="6.72" fill="#1d1d1f">For illustrative purposes only</text>
<text x="684.1" y="30.45" font-size="6.72" fill="#1d1d1f">Sizes and dimensions are approximate</text>
<text x="684.1" y="38.70" font-size="6.72" fill="#1d1d1f">Actual size may vary</text>
<text x="743.9" y="579.2" font-size="12.78" fill="#b9b9b9">OneKey MLS</text>
<g transform="translate(57.9,52.9) rotate(11.2)"><polygon points="0.00,-29.00 3.46,-3.46 29.00,-0.00 3.46,3.46 0.00,29.00 -3.46,3.46 -29.00,0.00 -3.46,-3.46" fill="#000"/><polygon points="7.92,-7.92 5.60,-0.00 7.92,7.92 0.00,5.60 -7.92,7.92 -5.60,0.00 -7.92,-7.92 -0.00,-5.60" fill="#000"/><circle r="5.0" fill="#000"/></g>
<text x="50.9" y="91.4" font-size="11.9" font-weight="bold" font-style="italic" text-anchor="middle" fill="#000">N</text>
</svg>
</body></html>
